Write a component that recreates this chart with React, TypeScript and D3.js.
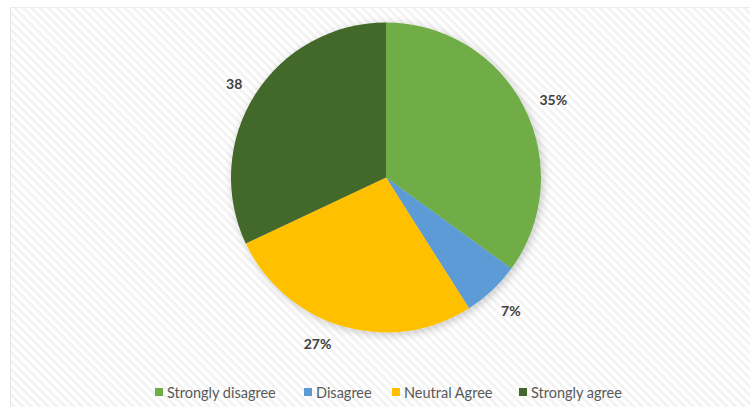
import React from "react";
import * as d3 from "d3";

const categories = ["Strongly disagree", "Disagree", "Neutral Agree", "Strongly agree"];
const values = [35, 6, 27, 32];
const dataLabels = ["35%", "7%", "27%", "38"];
const colors = ["#70ad47", "#5b9bd5", "#ffc000", "#43682b"];

const W = 750;
const H = 412;
const cx = 386;
const cy = 177.5;
const R = 155;
const labelR = 181;
const labelNudge: [number, number][] = [[6, 4], [1, 1], [-18, -8], [1, 3]];

const legendTextX = [167, 316, 404, 531];

export default function App() {
  const pie = d3.pie<number>().sort(null).value((d) => d)(values);
  const arc = d3.arc<d3.PieArcDatum<number>>().innerRadius(0).outerRadius(R);
  const labelArc = d3.arc<d3.PieArcDatum<number>>().innerRadius(labelR).outerRadius(labelR);

  return (
    <svg
      width={W}
      height={H}
      style={{ position: "absolute", left: 0, top: 0, display: "block" }}
      fontFamily="Lato, 'Open Sans', sans-serif"
    >
      <defs>
        <pattern id="hatch" width="6" height="6" patternUnits="userSpaceOnUse" patternTransform="rotate(45)">
          <rect width="6" height="6" fill="#ffffff" />
          <rect width="6" height="2.5" fill="#f2f2f2" />
        </pattern>
        <filter id="shadow" x="-20%" y="-20%" width="140%" height="140%">
          <feDropShadow dx="2" dy="2" stdDeviation="4" floodColor="#000" floodOpacity="0.22" />
        </filter>
      </defs>
      <rect x={0} y={0} width={W} height={H} fill="#ffffff" />
      <rect x={10} y={7} width={W - 10} height={H - 12} fill="url(#hatch)" />
      <line x1={10.5} y1={7} x2={10.5} y2={H - 5} stroke="#e4e4e4" />
      <line x1={10} y1={7.5} x2={W} y2={7.5} stroke="#ececec" />
      <g transform={`translate(${cx},${cy})`} filter="url(#shadow)">
        {pie.map((p, i) => (
          <path key={i} d={arc(p) || ""} fill={colors[i]} />
        ))}
      </g>
      <g transform={`translate(${cx},${cy})`}>
        {pie.map((p, i) => {
          const [x, y] = labelArc.centroid(p);
          return (
            <text
              key={i}
              x={x + labelNudge[i][0]}
              y={y + labelNudge[i][1]}
              textAnchor="middle"
              dominantBaseline="central"
              fontSize={14}
              fontWeight="bold"
              fill="#404040"
            >
              {dataLabels[i]}
            </text>
          );
        })}
      </g>
      <g>
        {categories.map((c, i) => (
          <g key={c} transform={`translate(${legendTextX[i]},392)`}>
            <rect x={-12} y={-4} width={8} height={8} fill={colors[i]} />
            <text x={0} y={0} dominantBaseline="central" fontSize={14.5} fill="#595959">
              {c}
            </text>
          </g>
        ))}
      </g>
    </svg>
  );
}
